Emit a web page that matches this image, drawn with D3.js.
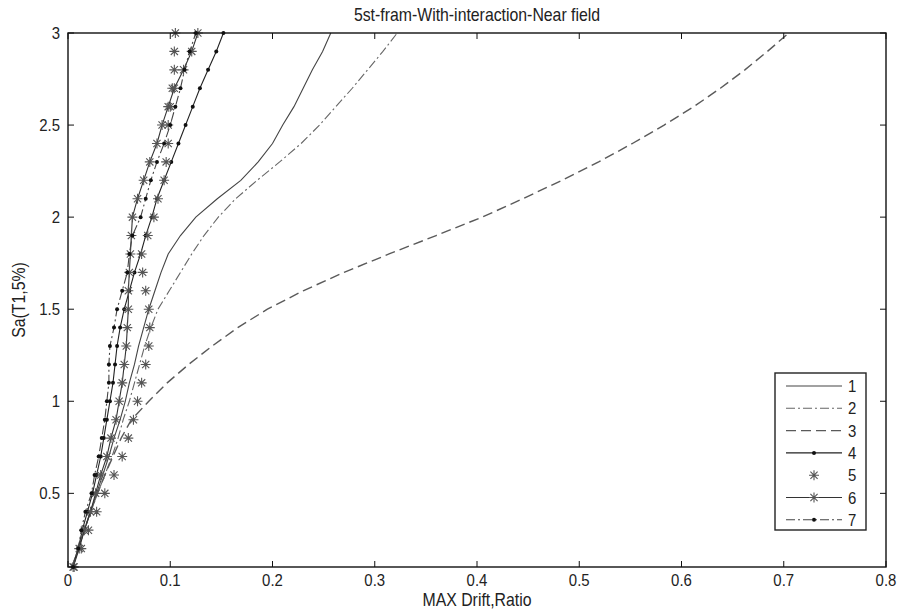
<!DOCTYPE html>
<html><head><meta charset="utf-8">
<script src="https://cdn.jsdelivr.net/npm/d3@7"></script>
<style>body{margin:0;background:#fff}svg{display:block}text{font-family:"Liberation Sans",Arial,sans-serif}</style>
</head><body><svg id="c" width="904" height="610"></svg>
<script>
const sa = [0.1,0.2,0.3,0.4,0.5,0.6,0.7,0.8,0.9,1.0,1.1,1.2,1.3,1.4,1.5,1.6,1.7,1.8,1.9,2.0,2.1,2.2,2.3,2.4,2.5,2.6,2.7,2.8,2.9,3.0];
const s1 = [0.004,0.010,0.016,0.022,0.028,0.034,0.040,0.045,0.051,0.056,0.060,0.065,0.069,0.074,0.079,0.085,0.091,0.098,0.110,0.125,0.146,0.169,0.186,0.200,0.210,0.221,0.230,0.239,0.249,0.257];
const s2 = [0.004,0.010,0.016,0.022,0.029,0.036,0.043,0.049,0.054,0.060,0.065,0.070,0.075,0.081,0.088,0.099,0.110,0.121,0.133,0.147,0.164,0.185,0.207,0.228,0.246,0.262,0.278,0.293,0.308,0.322];
const s3 = [0.004,0.010,0.016,0.022,0.029,0.036,0.044,0.052,0.062,0.079,0.097,0.118,0.141,0.166,0.195,0.230,0.270,0.314,0.360,0.405,0.445,0.483,0.519,0.552,0.583,0.612,0.638,0.662,0.684,0.705];
const s4 = [0.005,0.010,0.014,0.019,0.024,0.028,0.032,0.035,0.038,0.041,0.044,0.046,0.048,0.051,0.055,0.060,0.065,0.071,0.076,0.082,0.087,0.094,0.101,0.108,0.115,0.122,0.129,0.137,0.145,0.152];
const s5 = [0.006,0.013,0.020,0.028,0.036,0.045,0.053,0.059,0.064,0.068,0.072,0.076,0.079,0.080,0.079,0.076,0.073,0.072,0.078,0.084,0.088,0.094,0.096,0.098,0.098,0.100,0.102,0.104,0.104,0.105];
const s6 = [0.005,0.011,0.016,0.022,0.027,0.032,0.038,0.042,0.047,0.050,0.053,0.055,0.057,0.058,0.059,0.059,0.060,0.061,0.062,0.063,0.068,0.074,0.080,0.087,0.092,0.098,0.104,0.113,0.121,0.127];
const s7 = [0.005,0.010,0.013,0.017,0.023,0.026,0.030,0.033,0.036,0.038,0.040,0.040,0.041,0.045,0.048,0.053,0.058,0.060,0.063,0.071,0.076,0.081,0.087,0.094,0.100,0.105,0.110,0.114,0.119,0.125];
const seriesNames = ["1","2","3","4","5","6","7"];
const xTicks = [0,0.1,0.2,0.3,0.4,0.5,0.6,0.7,0.8];
const yTicks = [0.5,1,1.5,2,2.5,3];

const seriesData = [s1,s2,s3,s4,s5,s6,s7];
const styles = [
  {stroke:"#444", w:1.1, dash:null, line:true, marker:null},
  {stroke:"#666", w:1.1, dash:"9,3,2,3", line:true, marker:null},
  {stroke:"#5a5a5a", w:1.4, dash:"10,5", line:true, marker:null},
  {stroke:"#222", w:1.1, dash:null, line:true, marker:"dot"},
  {stroke:"#444", w:1.1, dash:null, line:false, marker:"star"},
  {stroke:"#333", w:1.1, dash:null, line:true, marker:"star"},
  {stroke:"#444", w:1.1, dash:"9,3,2,3", line:true, marker:"dot"}
];

const svg = d3.select("#c");
const L=68, R=886, T=33, B=567;
const x = d3.scaleLinear().domain([0,0.8]).range([L,R]);
const y = d3.scaleLinear().domain([0.1,3]).range([B,T]);

const plot = svg.append("g");
svg.append("clipPath").attr("id","cp").append("rect").attr("x",L).attr("y",T-6).attr("width",R-L).attr("height",B-T+12);
plot.attr("clip-path","url(#cp)");

function star(g, cx, cy, col){
  const r=5, d=3.6;
  const p = `M${cx-r},${cy}L${cx+r},${cy}M${cx},${cy-r}L${cx},${cy+r}M${cx-d},${cy-d}L${cx+d},${cy+d}M${cx-d},${cy+d}L${cx+d},${cy-d}`;
  g.append("path").attr("d",p).attr("stroke",col).attr("stroke-width",1.1).attr("fill","none");
}

seriesData.forEach((vals,i)=>{
  const st = styles[i];
  const pts = vals.map((v,j)=>[v,sa[j]]);
  if(st.line){
    plot.append("path").datum(pts)
      .attr("d", d3.line().x(d=>x(d[0])).y(d=>y(d[1])))
      .attr("fill","none").attr("stroke",st.stroke).attr("stroke-width",st.w)
      .attr("stroke-dasharray",st.dash);
  }
  if(st.marker==="dot"){
    plot.selectAll(null).data(pts).enter().append("circle")
      .attr("cx",d=>x(d[0])).attr("cy",d=>y(d[1])).attr("r",2).attr("fill","#111");
  } else if(st.marker==="star"){
    pts.forEach(d=>star(plot,x(d[0]),y(d[1]),"#555"));
  }
});

// axes box
const ax = svg.append("g");
ax.append("rect").attr("x",L).attr("y",T).attr("width",R-L).attr("height",B-T)
  .attr("fill","none").attr("stroke","#111").attr("stroke-width",1.4);
const tl=6;
function label(g, tx, ty, txt, size, anchor, sx){
  g.append("text").attr("transform",`translate(${tx},${ty}) scale(${sx},1)`)
   .attr("text-anchor",anchor).attr("font-size",size).attr("fill","#222").text(txt);
}
xTicks.forEach(t=>{
  ax.append("line").attr("x1",x(t)).attr("x2",x(t)).attr("y1",B).attr("y2",B-tl).attr("stroke","#111");
  ax.append("line").attr("x1",x(t)).attr("x2",x(t)).attr("y1",T).attr("y2",T+tl).attr("stroke","#111");
  label(ax, x(t), B+19, String(t), 17, "middle", 0.88);
});
yTicks.forEach(t=>{
  ax.append("line").attr("x1",L).attr("x2",L+tl).attr("y1",y(t)).attr("y2",y(t)).attr("stroke","#111");
  ax.append("line").attr("x1",R).attr("x2",R-tl).attr("y1",y(t)).attr("y2",y(t)).attr("stroke","#111");
  label(ax, L-8, y(t)+6, String(t), 17, "end", 0.88);
});

label(svg, 477, 21, "5st-fram-With-interaction-Near field", 18, "middle", 0.88);
label(svg, 477, 606, "MAX Drift,Ratio", 18, "middle", 0.88);
svg.append("text").attr("transform",`translate(25,${(T+B)/2}) rotate(-90) scale(0.88,1)`).attr("text-anchor","middle").attr("font-size",18).attr("fill","#222").text("Sa(T1,5%)");

// legend
const lg = svg.append("g");
const lx=775, ly=373, lw=91, lh=157;
lg.append("rect").attr("x",lx).attr("y",ly).attr("width",lw).attr("height",lh).attr("fill","#fff").attr("stroke","#222").attr("stroke-width",1.4);
seriesNames.forEach((n,i)=>{
  const st=styles[i];
  const yy = ly+13+i*22.3;
  const x1=lx+11, x2=lx+67, xm=(x1+x2)/2;
  if(st.line){
    lg.append("line").attr("x1",x1).attr("x2",x2).attr("y1",yy).attr("y2",yy)
      .attr("stroke",st.stroke).attr("stroke-width",st.w).attr("stroke-dasharray",st.dash);
  }
  if(st.marker==="dot") lg.append("circle").attr("cx",xm).attr("cy",yy).attr("r",2).attr("fill","#111");
  if(st.marker==="star") star(lg,xm,yy,"#555");
  label(lg, lx+73, yy+6, n, 17, "start", 0.88);
});
</script></body></html>
